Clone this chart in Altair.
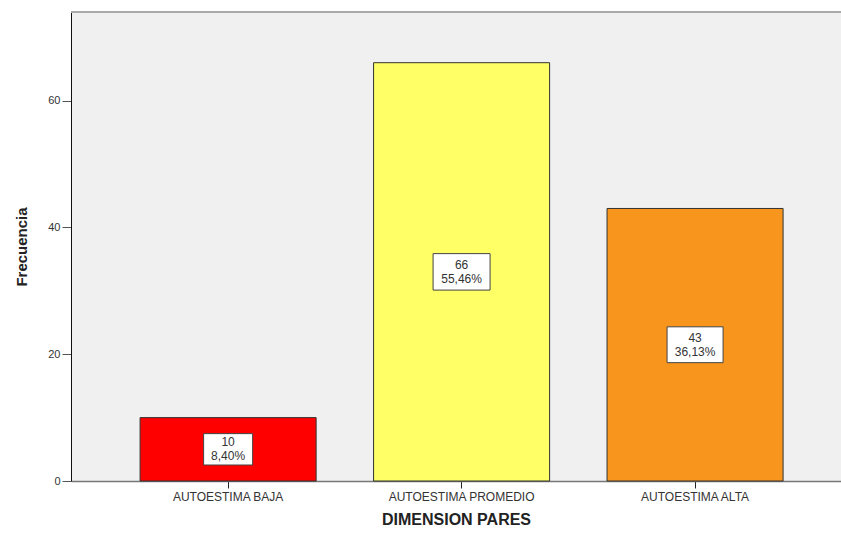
import altair as alt
import pandas as pd

categories = ["AUTOESTIMA BAJA", "AUTOESTIMA PROMEDIO", "AUTOESTIMA ALTA"]
counts = [10, 66, 43]
percents = ["8,40%", "55,46%", "36,13%"]
colors = ["#FF0000", "#FFFF66", "#F7951D"]
box_w = [49, 57, 56]

df = pd.DataFrame({
    "cat": categories,
    "count": counts,
    "pct": percents,
    "color": colors,
    "boxw2": [w * w for w in box_w],
})
df["mid"] = df["count"] / 2
df["label"] = df["count"].astype(str) + "\n" + df["pct"]

FONT = "Liberation Sans"

x = alt.X("cat:N", sort=categories,
          scale=alt.Scale(paddingInner=0.246, paddingOuter=0.272, align=0.544),
          axis=alt.Axis(title="DIMENSION PARES", labelAngle=0, labelFont=FONT,
                        labelFontSize=12, labelColor="#333333", titleFont=FONT,
                        titleFontSize=16, titleFontWeight="bold", titleColor="#222222",
                        titlePadding=9, domainColor="#777777", domainWidth=1.5,
                        tickColor="#222222", tickSize=7, labelPadding=3))

y_scale = alt.Scale(domain=[0, 74], nice=False)

bars = alt.Chart(df).mark_bar(stroke="#333333", strokeWidth=1).encode(
    x=x,
    y=alt.Y("count:Q", scale=y_scale,
            axis=alt.Axis(title="Frecuencia", values=[0, 20, 40, 60], grid=False,
                          labelFont=FONT, labelFontSize=11, labelColor="#333333",
                          titleFont=FONT, titleFontSize=15, titleFontWeight="bold",
                          titleColor="#222222", titlePadding=18, domainColor="#111111",
                          tickColor="#555555", tickSize=9, labelPadding=2)),
    color=alt.Color("color:N", scale=None),
)

boxes = alt.Chart(df).mark_point(
    shape="M-1,-0.64H1V0.64H-1Z", filled=True, fill="white", stroke="#444444",
    strokeWidth=1, opacity=1,
).encode(
    x=alt.X("cat:N", sort=categories),
    y=alt.Y("mid:Q", scale=y_scale),
    size=alt.Size("boxw2:Q", scale=None),
)

texts = alt.Chart(df).mark_text(
    lineBreak="\n", font=FONT, fontSize=12, color="#333333", baseline="middle",
    dy=-7, lineHeight=14,
).encode(
    x=alt.X("cat:N", sort=categories),
    y=alt.Y("mid:Q", scale=y_scale),
    text="label:N",
)

top = alt.Chart(df).mark_rule(color="#AAAAAA", strokeWidth=2).encode(
    y=alt.value(0), x=alt.value(0), x2=alt.value(800)
)

chart = alt.layer(bars, boxes, texts, top).properties(
    width=770, height=469,
    autosize=alt.AutoSizeParams(type="none"),
    padding={"left": 71, "top": 12, "right": 0, "bottom": 55},
    background="white",
).configure_view(fill="#F0F0F0", stroke=None)

chart.save("out.html", embed_options={"renderer": "svg", "actions": False})
